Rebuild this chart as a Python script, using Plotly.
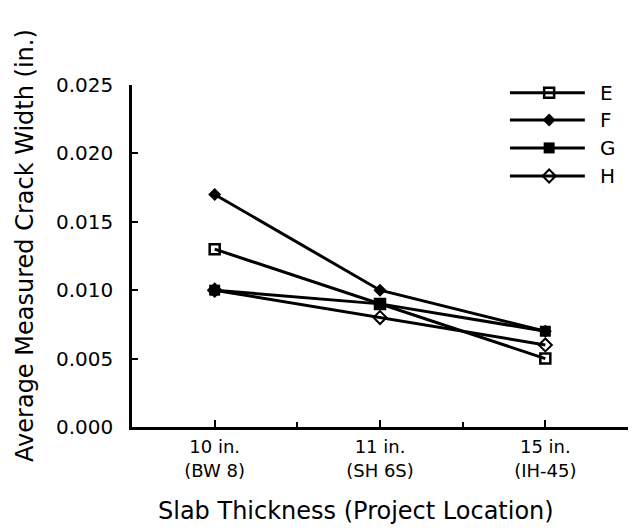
import plotly.graph_objects as go

categories = ["10 in.<br>(BW 8)", "11 in.<br>(SH 6S)", "15 in.<br>(IH-45)"]
series_names = ["E", "F", "G", "H"]
E = [0.013, 0.009, 0.005]
F = [0.017, 0.010, 0.007]
G = [0.010, 0.009, 0.007]
H = [0.010, 0.008, 0.006]
y_ticks = [0.000, 0.005, 0.010, 0.015, 0.020, 0.025]
y_ticktext = ["0.000", "0.005", "0.010", "0.015", "0.020", "0.025"]
x_title = "Slab Thickness (Project Location)"
y_title = "Average Measured Crack Width (in.)"

font_family = "'DejaVu Sans', sans-serif"
xpos = list(range(len(categories)))

styles = {
    "E": dict(symbol="square-open", size=10, line=dict(width=2.5, color="black")),
    "F": dict(symbol="diamond", size=10, color="black"),
    "G": dict(symbol="square", size=11, color="black"),
    "H": dict(symbol="diamond-open", size=10, line=dict(width=2, color="black")),
}

fig = go.Figure()
for name, vals in zip(series_names, [E, F, G, H]):
    m = dict(color="black")
    m.update(styles[name])
    fig.add_trace(go.Scatter(
        x=xpos, y=vals, name=name, mode="lines+markers",
        line=dict(color="black", width=3),
        marker=m, showlegend=False,
    ))

# custom legend drawn on a hidden overlay axis (0..1 in plot-area fractions)
leg_x0, leg_x1, leg_xm, leg_xt = 0.762, 0.913, 0.841, 0.94
leg_rows = [0.977, 0.898, 0.816, 0.734]
for name, yy in zip(series_names, leg_rows):
    m = dict(color="black")
    m.update(styles[name])
    fig.add_trace(go.Scatter(
        x=[leg_x0, leg_xm, leg_x1], y=[yy, yy, yy], mode="lines",
        line=dict(color="black", width=3), xaxis="x2", yaxis="y2",
        showlegend=False, hoverinfo="skip",
    ))
    fig.add_trace(go.Scatter(
        x=[leg_xm], y=[yy], mode="markers", marker=m,
        xaxis="x2", yaxis="y2", showlegend=False, hoverinfo="skip",
    ))
    fig.add_annotation(x=leg_xt, y=yy, xref="x2", yref="y2", text=name,
                       showarrow=False, xanchor="left", yanchor="middle",
                       font=dict(size=20, color="black"))

# axis titles
fig.add_annotation(x=0.452, y=-0.246, xref="paper", yref="paper", text=x_title,
                   showarrow=False, xanchor="center", yanchor="middle",
                   font=dict(size=24, color="black"))
fig.add_annotation(x=-0.216, y=0.532, xref="paper", yref="paper", text=y_title,
                   showarrow=False, xanchor="center", yanchor="middle", textangle=-90,
                   font=dict(size=24, color="black"))

fig.update_layout(
    width=632, height=532,
    margin=dict(l=132, r=4, t=85, b=105),
    paper_bgcolor="white", plot_bgcolor="white",
    font=dict(family=font_family, color="black", size=18),
    showlegend=False,
    xaxis=dict(
        range=[-0.5, 2.5], tickmode="array", tickvals=xpos, ticktext=categories,
        showgrid=False, zeroline=False, showline=True, linecolor="black", linewidth=2.5,
        ticks="inside", ticklen=7, tickwidth=2, tickcolor="black",
        tickfont=dict(size=18), ticklabelstandoff=2,
        minor=dict(ticks="inside", ticklen=5, tickwidth=2, tickcolor="black",
                   tickmode="linear", tick0=0.5, dtick=1, showgrid=False),
    ),
    yaxis=dict(
        range=[0, 0.025], tickmode="array", tickvals=y_ticks, ticktext=y_ticktext,
        showgrid=False, zeroline=False, showline=True, linecolor="black", linewidth=2.5,
        ticks="inside", ticklen=6, tickwidth=2, tickcolor="black",
        ticklabelstandoff=12,
        tickfont=dict(size=20),
    ),
    xaxis2=dict(range=[0, 1], overlaying="x", visible=False, fixedrange=True),
    yaxis2=dict(range=[0, 1], overlaying="y", visible=False, fixedrange=True),
)

fig.write_html("out.html", config={"displayModeBar": False},
               post_script="document.body.style.margin='0';")
